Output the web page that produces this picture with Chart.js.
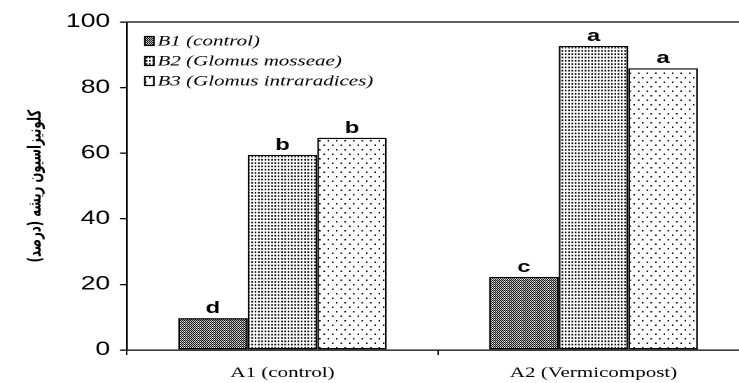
<!DOCTYPE html>
<html><head><meta charset="utf-8">
<script src="https://cdn.jsdelivr.net/npm/chart.js@4"></script>
<style>
html,body{margin:0;padding:0;overflow:hidden;background:#fff;width:739px;height:383px}
#wrap{position:absolute;left:0;top:0;width:535px;height:383px;transform:scaleX(1.4);transform-origin:0 0}
</style></head><body>
<div id="wrap"><canvas id="c"></canvas></div>
<script>
// ---- data ----
const categories = ['A1 (control)', 'A2 (Vermicompost)'];
const seriesNames = ['B1 (control)', 'B2 (Glomus mosseae)', 'B3 (Glomus intraradices)'];
const b1Values = [9.7, 22.3];
const b2Values = [59.5, 92.7];
const b3Values = [64.7, 85.9];
const b1Letters = ['d', 'c'];
const b2Letters = ['b', 'a'];
const b3Letters = ['b', 'a'];
const yTicks = [0, 20, 40, 60, 80, 100];
const yTitle = 'کلونیزاسیون ریشه (درصد)';

// ---- rendering ----
const S = 1.4; // horizontal stretch of the original figure

function makePattern(w, h, tileW, tileH, draw) {
  const c = document.createElement('canvas');
  c.width = w; c.height = h;
  const g = c.getContext('2d');
  g.fillStyle = '#fff'; g.fillRect(0, 0, w, h);
  g.fillStyle = '#000'; draw(g);
  const p = g.createPattern(c, 'repeat');
  p.setTransform(new DOMMatrix().scale(tileW / w / S, tileH / h));
  return p;
}
const patB1 = makePattern(4, 4, 2, 2, g => { g.fillRect(0, 0, 2, 2); g.fillRect(2, 2, 2, 2); g.fillRect(2, 0, 1, 1); });
const patB2 = makePattern(6, 6, 3.3, 3.3, g => { g.fillRect(1, 1, 3, 3); });
const patB3 = makePattern(17, 18, 8.5, 9, g => { g.fillRect(1, 1, 3, 3); g.fillRect(9, 10, 3, 3); });
const letters = [b1Letters, b2Letters, b3Letters];

const framePlugin = {
  id: 'frame',
  afterDraw(chart) {
    const { ctx, chartArea } = chart;
    ctx.save();
    ctx.strokeStyle = '#000';
    ctx.lineWidth = 1.3;
    ctx.beginPath();
    ctx.moveTo(chartArea.left, chartArea.top);
    ctx.lineTo(chartArea.right, chartArea.top);
    ctx.stroke();
    // legend inside plot
    const lx = 103.5, ly = [41, 61, 81];
    ctx.font = 'italic 15px "Liberation Serif"';
    ctx.textBaseline = 'middle';
    ctx.textAlign = 'left';
    chart.data.datasets.forEach((ds, i) => {
      const bw = 6.4, bh = 9;
      ctx.fillStyle = ds.backgroundColor;
      ctx.fillRect(lx, ly[i] - bh / 2, bw, bh);
      ctx.lineWidth = 1.2;
      ctx.strokeRect(lx, ly[i] - bh / 2, bw, bh);
      ctx.fillStyle = '#000';
      ctx.fillText(ds.label, lx + 9, ly[i] + 0.5);
    });
    ctx.restore();
  },
  afterDatasetsDraw(chart) {
    const ctx = chart.ctx;
    ctx.save();
    ctx.font = 'bold 17px "Liberation Sans"';
    ctx.fillStyle = '#000';
    ctx.textAlign = 'center';
    ctx.textBaseline = 'alphabetic';
    chart.data.datasets.forEach((ds, i) => {
      chart.getDatasetMeta(i).data.forEach((bar, j) => {
        ctx.fillText(letters[i][j], bar.x, bar.y - 5);
      });
    });
    ctx.restore();
  }
};

new Chart(document.getElementById('c'), {
  type: 'bar',
  data: {
    labels: categories,
    datasets: [
      { label: seriesNames[0], data: b1Values, backgroundColor: patB1 },
      { label: seriesNames[1], data: b2Values, backgroundColor: patB2 },
      { label: seriesNames[2], data: b3Values, backgroundColor: patB3 }
    ].map(d => Object.assign(d, { borderColor: '#000', borderWidth: 1.3, borderSkipped: false,
      categoryPercentage: 0.671, barPercentage: 1.0 }))
  },
  options: {
    responsive: true,
    maintainAspectRatio: false,
    devicePixelRatio: 2,
    animation: false,
    layout: { padding: { top: 22, left: 0, right: 0, bottom: 0 } },
    plugins: { legend: { display: false }, tooltip: { enabled: false } },
    scales: {
      x: {
        offset: true,
        grid: { display: true, drawOnChartArea: false, drawTicks: true, tickLength: 5, color: '#000', lineWidth: 1, offset: true },
        border: { display: true, color: '#000', width: 1.3 },
        ticks: { font: { family: 'Liberation Serif', size: 15 }, color: '#000', padding: 9, maxRotation: 0 },
        afterFit(s) { s.height = 33; }
      },
      y: {
        min: 0, max: 100,
        afterBuildTicks(s) { s.ticks = yTicks.map(v => ({ value: v })); },
        grid: { drawOnChartArea: false, drawTicks: true, tickLength: 5, color: '#000', lineWidth: 1.3 },
        border: { display: true, color: '#000', width: 1.3 },
        ticks: { font: { family: 'Liberation Sans', size: 19 }, color: '#000', padding: 7 },
        title: { display: true, text: '\u202B' + yTitle + '\u202C', color: '#000',
          font: { family: 'DejaVu Sans Condensed', size: 13, weight: 'bold' }, padding: { top: 18, bottom: 0 } },
        afterFit(s) { s.width = 90.7; }
      }
    }
  },
  plugins: [framePlugin]
});
</script>
</body></html>
